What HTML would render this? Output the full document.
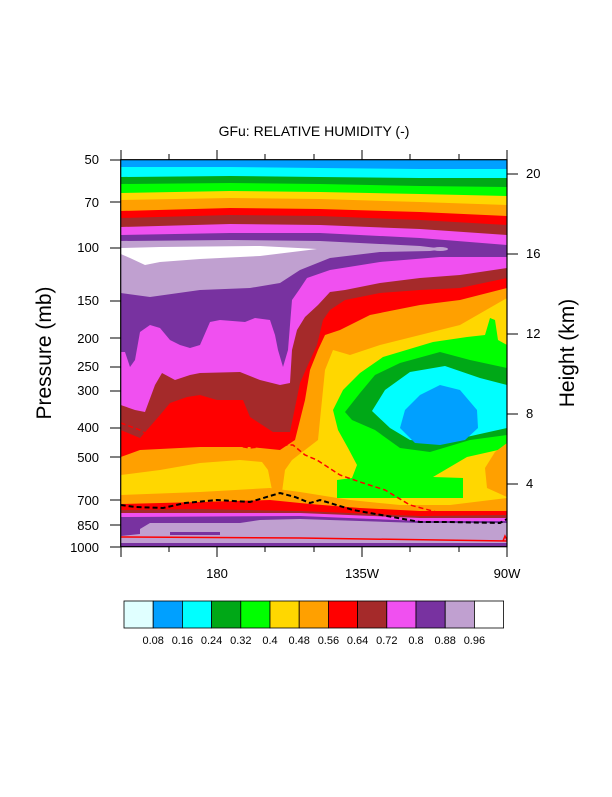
<!DOCTYPE html>
<html><head><meta charset="utf-8"><style>
body{margin:0;background:#fff;}
svg text{font-family:"Liberation Sans",Arial,sans-serif;fill:#000;}
</style></head><body>
<svg width="612" height="792" viewBox="0 0 612 792" xmlns="http://www.w3.org/2000/svg">
<rect width="612" height="792" fill="#fff"/>
<defs><clipPath id="c"><rect x="120.7" y="159.7" width="386.3" height="387"/></clipPath></defs>
<g clip-path="url(#c)">
<rect x="120" y="159" width="388" height="390" fill="#7832A0"/>
<polygon fill="#C0A0D0" points="120.7,241 230,240 320,241 420,246 445,249 430,251 380,252 330,258 300,270 280,283 250,288 200,290 150,297 120.7,293"/>
<ellipse cx="440" cy="249" rx="8" ry="2" fill="#C0A0D0"/>
<polygon fill="#fff" points="120.7,248 160,247 260,246 317,249 260,256 200,259 160,262 145,265 130,258 120.7,254"/>
<polygon fill="#F050F0" points="120.7,352 125,352 130,367 135,360 140,332 150,325 160,328 170,340 180,345 190,348 200,345 210,322 220,320 245,322 255,318 270,320 275,335 278,350 283,367 288,350 292,300 299,290 307,278 330,270 380,262 440,257 507,257 507,505 120.7,505"/>
<polygon fill="#A52A2A" points="120.7,405 135,410 145,412 155,385 162,373 175,380 190,375 200,373 240,372 260,380 280,385 290,383 292,350 297,330 305,317 318,305 330,292 345,290 380,283 420,278 460,275 507,268 507,505 120.7,505"/>
<polygon fill="#FF0000" points="120.7,430 140,438 160,415 170,403 187,397 200,395 217,400 243,400 250,417 273,432 290,432 300,383 307,367 317,345 323,320 330,310 345,300 380,293 420,290 460,288 507,278 507,505 120.7,505"/>
<polygon fill="#FFA000" points="120.7,457 140,450 200,447 250,447 280,450 295,440 305,400 310,370 318,350 325,335 340,330 370,315 420,305 460,300 507,288 507,505 120.7,505"/>
<polygon fill="#FFD700" points="120.7,475 160,470 200,463 240,460 262,462 268,470 272,490 282,492 285,470 292,460 305,450 318,440 322,400 325,370 333,350 350,355 380,345 420,335 460,325 507,298 507,505 120.7,505"/>
<polygon fill="#00FF00" points="333,410 343,390 360,373 383,357 433,342 467,337 485,335 490,318 495,320 498,340 507,345 507,448 467,457 433,477 463,478 463,498 337,498 337,480 352,478 357,465 348,448 338,430"/>
<polygon fill="#FFA000" points="507,443 495,452 485,468 487,488 507,497"/>
<polygon fill="#00A817" points="345,412 360,393 375,375 400,363 440,352 470,360 507,368 507,435 470,440 430,452 400,448 375,430 352,420"/>
<polygon fill="#00FFFF" points="372,411 385,390 410,372 445,366 480,378 507,385 507,428 480,434 440,443 410,440 390,428"/>
<polygon fill="#00A0FF" points="400,428 405,410 420,395 440,385 460,390 477,410 478,428 465,440 440,445 415,443"/>
<polygon fill="#FFA000" points="120.7,495 200,492 270,488 300,492 350,500 400,505 450,505 507,498 507,548 120.7,548"/>
<polygon fill="#FF0000" points="120.7,504 200,502 270,500 310,504 360,508 420,511 507,511 507,548 120.7,548"/>
<polygon fill="#A52A2A" points="120.7,510 200,509 300,511 420,516 507,515 507,548 120.7,548"/>
<polygon fill="#F050F0" points="120.7,513 300,513 420,518 507,518 507,548 120.7,548"/>
<polygon fill="#7832A0" points="120.7,517 300,516 420,521 507,521 507,548 120.7,548"/>
<polygon fill="#C0A0D0" points="140,529 150,523 240,523 260,520 300,519 420,523 507,523 507,537 120.7,537 120.7,536 140,534"/>
<rect x="170" y="532" width="50" height="3" fill="#7832A0"/>
<rect x="120" y="537" width="390" height="6" fill="#C0A0D0"/>
<rect x="120" y="543" width="390" height="5" fill="#7832A0"/>
<polygon fill="#F050F0" points="120.7,150 507,150 507,245 420,238 320,233 230,233 120.7,235"/>
<polygon fill="#A52A2A" points="120.7,150 507,150 507,235 420,229 320,225 230,224 120.7,227"/>
<polygon fill="#FF0000" points="120.7,150 507,150 507,225 420,220 320,216 230,215 120.7,218"/>
<polygon fill="#FFA000" points="120.7,150 507,150 507,216 420,212 320,209 230,208 120.7,211"/>
<polygon fill="#FFD700" points="120.7,150 507,150 507,205 420,202 320,199 230,198 120.7,200"/>
<polygon fill="#00FF00" points="120.7,150 507,150 507,196 420,194 320,192 230,191 120.7,193"/>
<polygon fill="#00A817" points="120.7,150 507,150 507,187 420,186 320,184 230,183 120.7,184"/>
<polygon fill="#00FFFF" points="120.7,150 507,150 507,178 420,178 320,177 230,176 120.7,177"/>
<polygon fill="#00A0FF" points="120.7,150 507,150 507,169 420,169 320,168 230,167 120.7,167"/>
<polyline fill="none" stroke="#FF0000" stroke-width="1.5" points="120.7,537 300,538 507,541"/>
<polyline fill="none" stroke="#FF0000" stroke-width="1.5" points="503,541 505,536 507,540"/>
<polyline fill="none" stroke="#000" stroke-width="2" stroke-dasharray="5,3" points="120.7,505 135,507 163,508 185,503 217,500 250,502 270,496 280,493 295,497 310,503 320,500 353,510 387,516 420,522 447,522 500,523 507,519"/>
<polyline fill="none" stroke="#FF0000" stroke-width="1.5" stroke-dasharray="5,3" points="120.7,423 140,430 165,445 200,446 220,443 250,448 275,445 293,445 305,455 317,460 340,475 360,482 385,490 410,505 440,513 470,512"/>
</g>
<rect x="120.7" y="159.7" width="386.3" height="387" fill="none" stroke="#000" stroke-width="1.2"/>
<g stroke="#000" stroke-width="1">
<line x1="169" y1="547" x2="169" y2="552"/><line x1="265" y1="547" x2="265" y2="552"/><line x1="314" y1="547" x2="314" y2="552"/><line x1="410" y1="547" x2="410" y2="552"/><line x1="459" y1="547" x2="459" y2="552"/>
<line x1="217" y1="160" x2="217" y2="150"/><line x1="362" y1="160" x2="362" y2="150"/><line x1="507" y1="160" x2="507" y2="150"/><line x1="121" y1="160" x2="121" y2="150"/>
<line x1="169" y1="160" x2="169" y2="154"/><line x1="265" y1="160" x2="265" y2="154"/><line x1="314" y1="160" x2="314" y2="154"/><line x1="410" y1="160" x2="410" y2="154"/><line x1="459" y1="160" x2="459" y2="154"/>
<line x1="121" y1="547" x2="121" y2="557"/><line x1="217" y1="547" x2="217" y2="557"/><line x1="362" y1="547" x2="362" y2="557"/><line x1="507" y1="547" x2="507" y2="557"/>
<line x1="110" y1="160" x2="121" y2="160"/><line x1="110" y1="202" x2="121" y2="202"/><line x1="110" y1="248" x2="121" y2="248"/><line x1="110" y1="301" x2="121" y2="301"/><line x1="110" y1="338" x2="121" y2="338"/><line x1="110" y1="367" x2="121" y2="367"/><line x1="110" y1="391" x2="121" y2="391"/><line x1="110" y1="428" x2="121" y2="428"/><line x1="110" y1="457" x2="121" y2="457"/><line x1="110" y1="500" x2="121" y2="500"/><line x1="110" y1="525" x2="121" y2="525"/><line x1="110" y1="547" x2="121" y2="547"/>
<line x1="507" y1="174" x2="518" y2="174"/><line x1="507" y1="254" x2="518" y2="254"/><line x1="507" y1="334" x2="518" y2="334"/><line x1="507" y1="414" x2="518" y2="414"/><line x1="507" y1="484" x2="518" y2="484"/>
</g>
<g font-size="13" text-anchor="end">
<text x="99" y="164">50</text><text x="99" y="207">70</text><text x="99" y="252">100</text><text x="99" y="305">150</text><text x="99" y="343">200</text><text x="99" y="371">250</text><text x="99" y="395">300</text><text x="99" y="432">400</text><text x="99" y="462">500</text><text x="99" y="505">700</text><text x="99" y="530">850</text><text x="99" y="552">1000</text>
</g>
<g font-size="13">
<text x="526" y="178">20</text><text x="526" y="258">16</text><text x="526" y="338">12</text><text x="526" y="418">8</text><text x="526" y="488">4</text>
</g>
<g font-size="13" text-anchor="middle">
<text x="217" y="578">180</text><text x="362" y="578">135W</text><text x="507" y="578">90W</text>
</g>
<text x="314" y="136" font-size="14" text-anchor="middle">GFu: RELATIVE HUMIDITY (-)</text>
<text transform="translate(51,353) rotate(-90)" font-size="21" text-anchor="middle">Pressure (mb)</text>
<text transform="translate(574,353) rotate(-90)" font-size="21" text-anchor="middle">Height (km)</text>
<g stroke="#000" stroke-width="0.8">
<rect x="124" y="601" width="29.2" height="27" fill="#E0FFFF"/>
<rect x="153.2" y="601" width="29.2" height="27" fill="#00A0FF"/>
<rect x="182.4" y="601" width="29.2" height="27" fill="#00FFFF"/>
<rect x="211.6" y="601" width="29.2" height="27" fill="#00A817"/>
<rect x="240.8" y="601" width="29.2" height="27" fill="#00FF00"/>
<rect x="270" y="601" width="29.2" height="27" fill="#FFD700"/>
<rect x="299.2" y="601" width="29.2" height="27" fill="#FFA000"/>
<rect x="328.4" y="601" width="29.2" height="27" fill="#FF0000"/>
<rect x="357.6" y="601" width="29.2" height="27" fill="#A52A2A"/>
<rect x="386.8" y="601" width="29.2" height="27" fill="#F050F0"/>
<rect x="416" y="601" width="29.2" height="27" fill="#7832A0"/>
<rect x="445.2" y="601" width="29.2" height="27" fill="#C0A0D0"/>
<rect x="474.4" y="601" width="29.2" height="27" fill="#FFFFFF"/>
</g>
<g font-size="11" text-anchor="middle">
<text x="153.2" y="644">0.08</text><text x="182.4" y="644">0.16</text><text x="211.6" y="644">0.24</text><text x="240.8" y="644">0.32</text><text x="270" y="644">0.4</text><text x="299.2" y="644">0.48</text><text x="328.4" y="644">0.56</text><text x="357.6" y="644">0.64</text><text x="386.8" y="644">0.72</text><text x="416" y="644">0.8</text><text x="445.2" y="644">0.88</text><text x="474.4" y="644">0.96</text>
</g>
</svg>
</body></html>
